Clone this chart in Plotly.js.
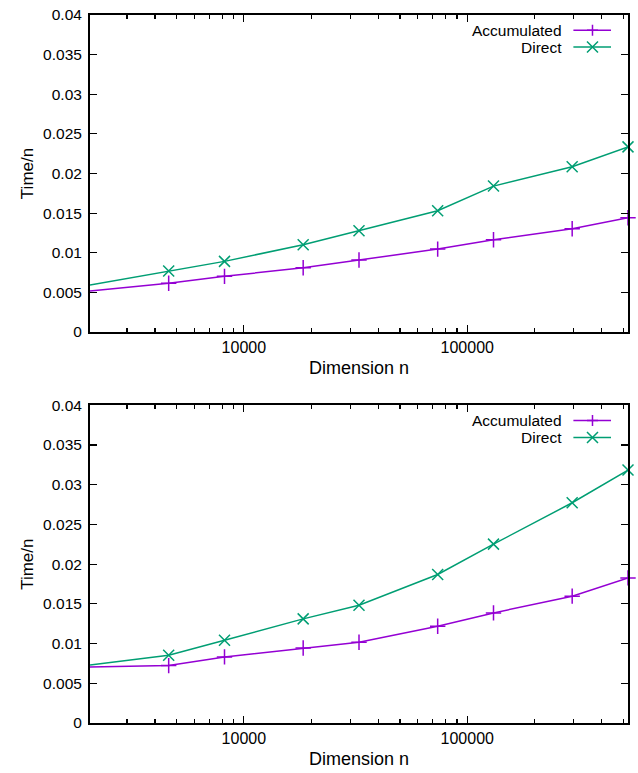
<!DOCTYPE html>
<html><head><meta charset="utf-8">
<script src="https://cdn.plot.ly/plotly-3.0.1.min.js"></script>
<style>html,body{margin:0;padding:0;background:#fff}#chart{width:638px;height:773px}</style>
</head><body><div id="chart"></div>
<script>
// Data
const dims = [2048, 4608, 8192, 18432, 32768, 73728, 131072, 294912, 524288];
const accTop = [0.00517, 0.00614, 0.00702, 0.00811, 0.00908, 0.01046, 0.01164, 0.01302, 0.01441];
const dirTop = [0.00593, 0.00769, 0.00891, 0.01101, 0.01277, 0.01529, 0.01841, 0.02084, 0.02336];
const accBot = [0.00706, 0.00723, 0.00832, 0.00945, 0.01017, 0.01219, 0.01386, 0.01597, 0.01827];
const dirBot = [0.00731, 0.00853, 0.01042, 0.01311, 0.01483, 0.01870, 0.02252, 0.02773, 0.03185];
const seriesNames = ['Accumulated', 'Direct'];
const yTickVals = [0, 0.005, 0.01, 0.015, 0.02, 0.025, 0.03, 0.035, 0.04];
const yTickText = ['0', '0.005', '0.01', '0.015', '0.02', '0.025', '0.03', '0.035', '0.04'];
const xTickVals = [10000, 100000];
const xTickText = ['10000', '100000'];

const purple = '#9400d3', green = '#009e73';
const font = 'Liberation Sans, Arial, sans-serif';

const minorVals = [];
[1000, 10000, 100000].forEach(d => { for (let k = 2; k <= 9; k++) minorVals.push(k * d); });

function tr(y, name, color, sym, size, xa, ya) {
  return {
    x: dims, y: y, name: name, type: 'scatter', mode: 'lines+markers',
    xaxis: xa, yaxis: ya, showlegend: false, cliponaxis: false,
    line: {color: color, width: 1.5},
    marker: {symbol: sym, size: size, color: color, line: {color: color, width: 1.5}}
  };
}
const data = [
  tr(accTop, seriesNames[0], purple, 'cross-thin', 11, 'x', 'y'),
  tr(dirTop, seriesNames[1], green, 'x-thin', 11, 'x', 'y'),
  tr(accBot, seriesNames[0], purple, 'cross-thin', 11, 'x2', 'y2'),
  tr(dirBot, seriesNames[1], green, 'x-thin', 11, 'x2', 'y2')
];

function xax(anchor) {
  return {
    type: 'log', anchor: anchor, range: [Math.log10(dims[0]), Math.log10(dims[dims.length - 1])],
    tickmode: 'array', tickvals: xTickVals, ticktext: xTickText,
    ticks: 'inside', ticklen: 7, tickwidth: 1.2, tickcolor: '#000',
    minor: {tickmode: 'array', tickvals: minorVals, ticks: 'inside', ticklen: 4, tickwidth: 1.2, tickcolor: '#000'},
    showline: true, linecolor: '#000', linewidth: 2, mirror: 'ticks',
    showgrid: false, zeroline: false,
    tickfont: {family: font, size: 16, color: '#000'},
    title: {text: 'Dimension n', font: {family: font, size: 18, color: '#000'}, standoff: 6}
  };
}
function yax(anchor, domain) {
  return {
    anchor: anchor, domain: domain, range: [0, 0.04],
    tickmode: 'array', tickvals: yTickVals, ticktext: yTickText,
    ticks: 'inside', ticklen: 7, tickwidth: 1.2, tickcolor: '#000',
    ticklabelstandoff: 3,
    showline: true, linecolor: '#000', linewidth: 2, mirror: 'ticks',
    showgrid: false, zeroline: false,
    tickfont: {family: font, size: 15.5, color: '#000'},
    title: {text: 'Time/n', font: {family: font, size: 17, color: '#000'}, standoff: 5}
  };
}

// Legend (gnuplot style: text on the left, sample on the right)
const annotations = [], shapes = [];
function legend(xr, yr) {
  const rows = [[seriesNames[0], purple, 'plus', 0.952], [seriesNames[1], green, 'x', 0.899]];
  rows.forEach(r => {
    annotations.push({xref: xr + ' domain', yref: yr + ' domain', x: 0.881, y: r[3], xanchor: 'right', yanchor: 'middle',
      text: r[0], showarrow: false, font: {family: font, size: 15.5, color: '#000'}});
    shapes.push({type: 'line', xref: xr + ' domain', yref: yr + ' domain', x0: 0.8985, x1: 0.9684, y0: r[3], y1: r[3],
      line: {color: r[1], width: 1.5}});
    const p = r[2] === 'plus' ? 'M-5.5,0 L5.5,0 M0,-5.5 L0,5.5' : 'M-5.5,-5.5 L5.5,5.5 M-5.5,5.5 L5.5,-5.5';
    shapes.push({type: 'path', xref: xr + ' domain', yref: yr + ' domain', xsizemode: 'pixel', ysizemode: 'pixel',
      xanchor: 0.934, yanchor: r[3], path: p, line: {color: r[1], width: 1.5}});
  });
}
legend('x', 'y');
legend('x2', 'y2');

const layout = {
  width: 638, height: 773,
  margin: {l: 90, r: 10, t: 15, b: 50},
  paper_bgcolor: '#fff', plot_bgcolor: '#fff',
  showlegend: false,
  xaxis: xax('y'), yaxis: yax('x', [0.5523, 1]),
  xaxis2: xax('y2'), yaxis2: yax('x2', [0, 0.4487]),
  annotations: annotations, shapes: shapes
};
Plotly.newPlot('chart', data, layout, {staticPlot: true});
</script></body></html>
